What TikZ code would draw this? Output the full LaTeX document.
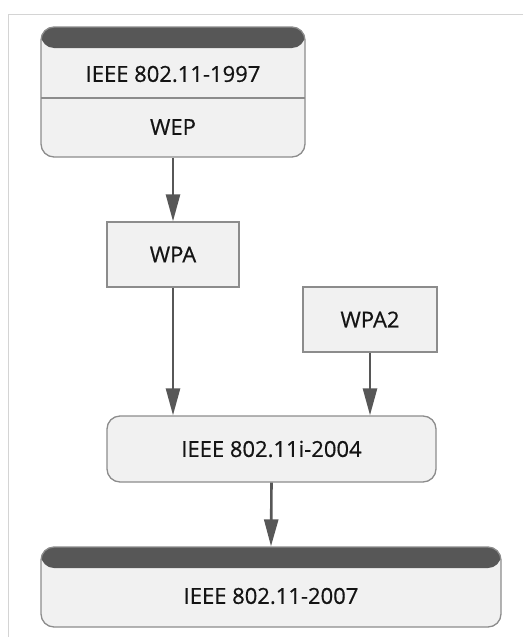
\documentclass[tikz,border=0pt]{standalone}
\usepackage{fontspec}
\setmainfont{Open Sans}
\newfontfamily\labelfont[FakeBold=0.6]{Open Sans}
\usetikzlibrary{arrows.meta}
\definecolor{boxfill}{HTML}{F1F1F1}
\definecolor{boxline}{HTML}{8C8C8C}
\definecolor{headdark}{HTML}{575757}
\definecolor{frameline}{HTML}{D4D4D4}
\begin{document}
\begin{tikzpicture}[x=1pt,y=-1pt,
  box/.style={draw=boxline,fill=boxfill,line width=1.3pt,inner sep=0pt},
  roundbox/.style={box,rounded corners=13pt},
  headbox/.style={roundbox,path picture={
      \fill[headdark] (path picture bounding box.north west)
        rectangle ([yshift=-21pt]path picture bounding box.north east);}},
  label/.style={font=\labelfont\fontsize{22}{25}\selectfont,text=black!92},
  flow/.style={draw=headdark,line width=2.6pt,
    -{Triangle[length=27pt,width=14pt]}}
]
\useasboundingbox (0,0) rectangle (523,637);
% outer frame
\draw[frameline,line width=1pt] (523,14) -- (8,14) -- (8,637);

% 802.11-1997 with WEP
\node[headbox,minimum width=264pt,minimum height=130pt] (std97) at (173,92) {};
\draw[boxline,line width=1.3pt] (41,98) -- (305,98);
\node[label] (t97) at (173,74) {IEEE 802.11-1997};
\node[label] (wep) at (173,127) {WEP};

% WPA and WPA2
\node[box,minimum width=132pt,minimum height=65pt,label] (wpa) at (173,254.5) {WPA};
\node[box,minimum width=134pt,minimum height=65pt,label] (wpa2) at (370,319.5) {WPA2};

% 802.11i-2004
\node[roundbox,minimum width=329pt,minimum height=66pt,label] (std04) at (271.5,449) {IEEE 802.11i-2004};

% 802.11-2007
\node[headbox,minimum width=460pt,minimum height=80pt] (std07) at (271,587) {};
\node[label] (t07) at (271,596) {IEEE 802.11-2007};

% connectors
\draw[flow] (std97.south) -- (wpa.north);
\draw[flow] (wpa.south) -- (wpa.south |- std04.north);
\draw[flow] (wpa2.south) -- (wpa2.south |- std04.north);
\draw[flow] (std04.south) -- (std07.north);
\end{tikzpicture}
\end{document}
